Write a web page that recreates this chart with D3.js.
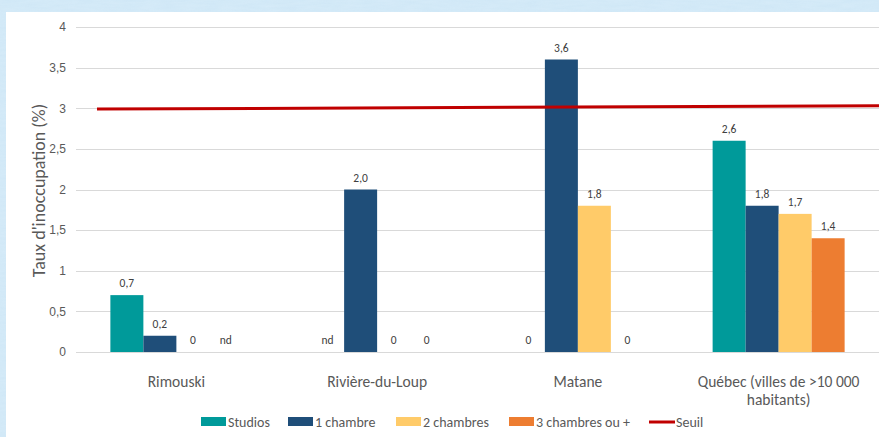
<!DOCTYPE html>
<html>
<head>
<meta charset="utf-8">
<script src="https://cdn.jsdelivr.net/npm/d3@7"></script>
<style>
  html, body { margin: 0; padding: 0; }
  body { width: 879px; height: 437px; overflow: hidden; }
  svg { display: block; font-family: Calibri, Carlito, "Liberation Sans", "Open Sans", sans-serif; }
</style>
</head>
<body>
<div id="chart"></div>
<script>
// categories and series
const categories = ['Rimouski', 'Rivière-du-Loup', 'Matane', 'Québec (villes de >10 000 habitants)'];
const seriesNames = ['Studios', '1 chambre', '2 chambres', '3 chambres ou +'];
const seriesColors = ['#009a9a', '#1f4e79', '#ffcb69', '#ed7d31'];
// null = nd (non disponible)
const studios = [0.7, null, 0, 2.6];
const uneChambre = [0.2, 2.0, 3.6, 1.8];
const deuxChambres = [0, 0, 1.8, 1.7];
const troisChambres = [null, 0, 0, 1.4];
const seuilEnds = [2.99, 3.03];
const yTicks = [0, 0.5, 1, 1.5, 2, 2.5, 3, 3.5, 4];

const W = 879, H = 437;
const margin = {left: 76, right: 0, top: 27, bottom: 85};

const svg = d3.select('#chart').append('svg').attr('width', W).attr('height', H);

// watercolor-ish blue frame
const defs = svg.append('defs');
const filter = defs.append('filter').attr('id', 'paper');
filter.append('feTurbulence').attr('type', 'fractalNoise').attr('baseFrequency', '0.05 0.4').attr('numOctaves', 3).attr('seed', 4);
filter.append('feColorMatrix').attr('values', '0 0 0 0 0.72  0 0 0 0 0.86  0 0 0 0 0.96  0 0 0 0.9 0');
svg.append('rect').attr('width', W).attr('height', H).attr('fill', '#cfe7f6');
svg.append('rect').attr('width', W).attr('height', H).attr('filter', 'url(#paper)').attr('opacity', 0.6);
svg.append('rect').attr('x', 6).attr('y', 12).attr('width', W - 6).attr('height', H - 12).attr('fill', '#fff');

const x0 = d3.scaleBand().domain(categories).range([margin.left, W - margin.right]);
const barW = 33;
const x1 = d3.scaleBand().domain(seriesNames).range([0, barW * 4]);
const y = d3.scaleLinear().domain([0, 4]).range([H - margin.bottom, margin.top]);

// grid
svg.append('g')
  .selectAll('line')
  .data(yTicks)
  .enter()
  .append('line')
  .attr('x1', margin.left)
  .attr('x2', W)
  .attr('y1', d => Math.round(y(d)) + 0.5)
  .attr('y2', d => Math.round(y(d)) + 0.5)
  .attr('stroke', '#d9d9d9')
  .attr('stroke-width', 1);

// y axis
const yAxis = d3.axisLeft(y)
  .tickValues(yTicks)
  .tickSize(0)
  .tickPadding(0)
  .tickFormat(d => String(d).replace('.', ','));
const yg = svg.append('g')
  .attr('transform', 'translate(' + (margin.left - 10) + ',0)')
  .call(yAxis);
yg.select('.domain').remove();
yg.selectAll('text').attr('fill', '#595959').attr('font-size', 12).style('font-family', 'inherit');

svg.append('text')
  .text("Taux d'inoccupation (%)")
  .attr('transform', 'translate(45,' + ((y(0) + y(4)) / 2 + 1) + ') rotate(-90)')
  .attr('text-anchor', 'middle')
  .attr('font-size', 18)
  .attr('fill', '#595959');

// bars
const allSeries = [studios, uneChambre, deuxChambres, troisChambres];
const rows = [];
categories.forEach((c, i) => {
  seriesNames.forEach((s, j) => {
    rows.push({cat: c, series: s, color: seriesColors[j], value: allSeries[j][i]});
  });
});
const groupOffset = (x0.bandwidth() - barW * 4) / 2;

const groups = svg.append('g').attr('class', 'bars')
  .selectAll('g')
  .data(rows)
  .enter()
  .append('g')
  .attr('transform', d => 'translate(' + (x0(d.cat) + groupOffset + x1(d.series)) + ',0)');

groups.filter(d => d.value)
  .append('rect')
  .attr('x', 0)
  .attr('y', d => y(d.value))
  .attr('width', x1.bandwidth())
  .attr('height', d => y(0) - y(d.value))
  .attr('fill', d => d.color);

groups.append('text')
  .text(d => d.value === null ? 'nd' : (d.value === 0 ? '0' : d3.format('.1f')(d.value).replace('.', ',')))
  .attr('x', x1.bandwidth() / 2)
  .attr('y', d => y(d.value || 0) - 8)
  .attr('text-anchor', 'middle')
  .attr('font-size', 11.5)
  .attr('fill', '#404040');

// category labels
const catLabels = [['Rimouski'], ['Rivière-du-Loup'], ['Matane'], ['Québec (villes de >10 000', 'habitants)']];
categories.forEach((c, i) => {
  const cx = x0(c) + x0.bandwidth() / 2;
  const t = svg.append('text')
    .attr('x', cx)
    .attr('y', 387)
    .attr('text-anchor', 'middle')
    .attr('font-size', 15.5)
    .attr('fill', '#595959');
  catLabels[i].forEach((line, k) => {
    t.append('tspan').attr('x', cx).attr('dy', k === 0 ? 0 : 18).text(line);
  });
});

// seuil line
const xs = d3.scaleLinear().domain([0, 1]).range([97, W]);
svg.append('path')
  .datum(seuilEnds)
  .attr('d', d3.line().x((d, i) => xs(i)).y(d => y(d)))
  .attr('stroke', '#c00000')
  .attr('stroke-width', 3)
  .attr('fill', 'none');

// legend
const legendItems = [
  {name: 'Studios', color: seriesColors[0], x: 201, type: 'rect'},
  {name: '1 chambre', color: seriesColors[1], x: 288, type: 'rect'},
  {name: '2 chambres', color: seriesColors[2], x: 396, type: 'rect'},
  {name: '3 chambres ou +', color: seriesColors[3], x: 509, type: 'rect'},
  {name: 'Seuil', color: '#c00000', x: 649, type: 'line'}
];
const lg = svg.append('g').selectAll('g').data(legendItems).enter().append('g')
  .attr('transform', d => 'translate(' + d.x + ',422)');
lg.filter(d => d.type === 'rect').append('rect')
  .attr('x', 0).attr('y', -5).attr('width', 25).attr('height', 9).attr('fill', d => d.color);
lg.filter(d => d.type === 'line').append('line')
  .attr('x1', 0).attr('x2', 26).attr('y1', 0).attr('y2', 0)
  .attr('stroke', d => d.color).attr('stroke-width', 3);
lg.append('text')
  .text(d => d.name)
  .attr('x', 27)
  .attr('y', 5)
  .attr('font-size', 14)
  .attr('fill', '#595959');
</script>
</body>
</html>
